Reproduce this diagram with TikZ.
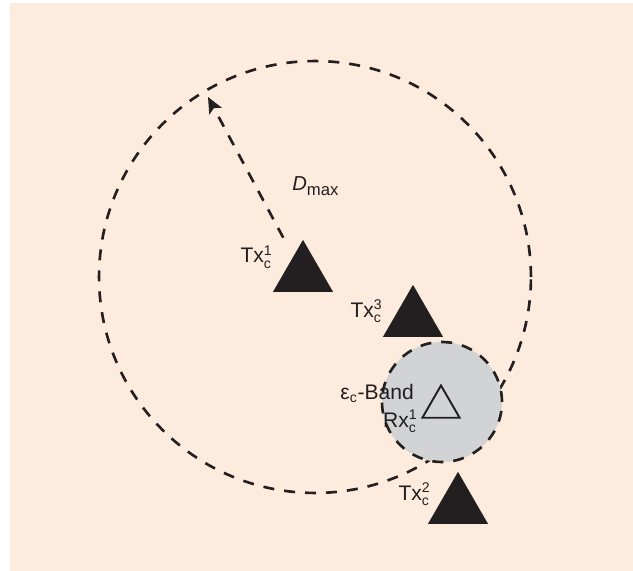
\documentclass[tikz,border=0pt]{standalone}
\usepackage{amsmath}
\usepackage{fontspec}
\setmainfont{Liberation Sans}
\usetikzlibrary{arrows.meta, shapes.geometric}
\definecolor{bgpeach}{HTML}{FDEBDD}
\definecolor{bandgray}{HTML}{D1D3D4}
\definecolor{inkblack}{HTML}{231F20}

\begin{document}
\begin{tikzpicture}[x=0.02cm, y=-0.02cm,
  rangeline/.style={line width=1.5pt, dash pattern=on 0.22cm off 0.2cm, draw=inkblack},
  txnode/.style={regular polygon, regular polygon sides=3, fill=inkblack, inner sep=0pt, minimum size=1.39cm},
  rxnode/.style={regular polygon, regular polygon sides=3, draw=inkblack, line width=1.1pt, inner sep=0pt, minimum size=0.86cm},
  lbl/.style={inner sep=0pt, text=inkblack, font=\fontsize{12}{14}\selectfont}]

% Background
\useasboundingbox (0,0) rectangle (633,571);
\fill[bgpeach] (10,3) rectangle (633,571);

% Coverage circle
\coordinate (ctr) at (315,277);
\coordinate (rim) at (208,97);
\draw[rangeline] (ctr) circle[radius=4.32cm];

% Epsilon band round the receiver
\coordinate (band) at (442,402);
\fill[bandgray] (band) circle[radius=1.2cm];
\draw[rangeline] (band) circle[radius=1.2cm];

% Transmitters and receiver
\node[txnode] (tx1) at (303,274.6) {};
\node[txnode] (tx3) at (413,319.6) {};
\node[txnode] (tx2) at (458,506.6) {};
\node[rxnode] (rx1) at (441,407) {};

% Range arrow
\draw[rangeline, -{Stealth[length=0.32cm, width=0.28cm, inset=0.07cm]}, shorten <=0.42cm] (tx1) -- (rim);

% Labels
\node[lbl, anchor=base east] (tx1lbl) at (273,263) {Tx$^{\text{1}}_{\text{c}}$};
\node[lbl, anchor=base east] (tx3lbl) at (383,317) {Tx$^{\text{3}}_{\text{c}}$};
\node[lbl, anchor=base east] (tx2lbl) at (431,500) {Tx$^{\text{2}}_{\text{c}}$};
\node[lbl, anchor=base east] (rx1lbl) at (418,427) {Rx$^{\text{1}}_{\text{c}}$};
\node[lbl, anchor=base west] (bandlbl) at (340,399) {ε$_{\text{c}}$-Band};
\node[lbl, anchor=base west, font=\fontsize{11.5}{13}\selectfont] (dmax) at (292,191) {\textit{D}\raisebox{-2.5pt}{\fontsize{9.5}{11}\selectfont max}};

\end{tikzpicture}
\end{document}
